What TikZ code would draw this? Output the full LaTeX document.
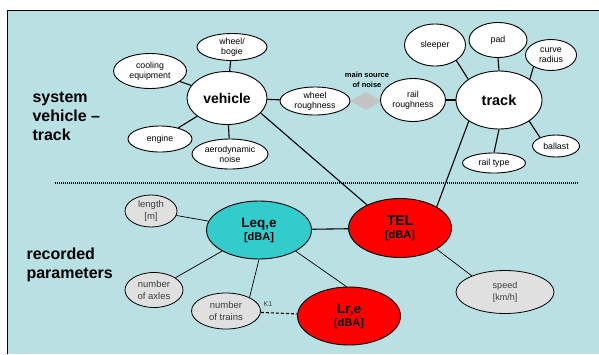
\documentclass[tikz,border=0pt]{standalone}
\usepackage{fontspec}
\setmainfont{Liberation Sans}
\usetikzlibrary{shapes.geometric}
\definecolor{bgc}{RGB}{185,224,227}
\definecolor{teal2}{RGB}{51,204,204}
\definecolor{lgray}{RGB}{224,224,224}
\definecolor{dgray}{RGB}{60,60,60}
\definecolor{dia}{RGB}{196,196,196}
\tikzset{
  el/.style={ellipse,draw=black,line width=0.9pt,fill=white,inner sep=0pt,align=center},
  upsmall/.style={el,font=\fontsize{8.8}{10.3}\selectfont},
  lowsmall/.style={el,fill=lgray,line width=0.8pt,text=dgray,font=\fontsize{9.5}{11.5}\selectfont},
  upline/.style={line width=1.1pt},
  lowline/.style={line width=0.7pt},
  heading/.style={font=\bfseries\fontsize{16}{19}\selectfont,align=left,anchor=west}
}
\begin{document}
\begin{tikzpicture}[x=1pt,y=-1pt]
\useasboundingbox (0,0) rectangle (599,354);
\fill[bgc] (7,10) rectangle (599,354);
\draw[line width=0.8pt] (7,354) -- (7,10) -- (599,10);

% headings
\node[heading] (h1) at (29,116) {system\\vehicle –\\track};
\node[heading] (h2) at (23,265) {recorded\\parameters};

% dotted separator
\coordinate (d1) at (55,183);
\coordinate (d2) at (578,183);
\draw[line width=2pt,dash pattern=on 1pt off 1pt] (d1) -- (d2);

% upper nodes
\node[el,minimum width=80pt,minimum height=53pt,font=\bfseries\fontsize{14}{16}\selectfont] (veh) at (227,98) {vehicle};
\node[upsmall,minimum width=70pt,minimum height=27pt] (wb) at (232,47) {wheel/\\bogie};
\node[upsmall,minimum width=73pt,minimum height=35pt] (cool) at (150,71) {cooling\\equipment};
\node[upsmall,minimum width=64pt,minimum height=26pt] (eng) at (160,139) {engine};
\node[upsmall,minimum width=76pt,minimum height=30pt] (aero) at (230,154) {aerodynamic\\noise};
\node[upsmall,minimum width=70pt,minimum height=28pt] (wr) at (315,101) {wheel\\roughness};
\node[diamond,fill=dia,inner sep=0pt,minimum width=32pt,minimum height=18pt] (dm) at (366,101) {};
\node[font=\bfseries\fontsize{7.5}{9.5}\selectfont,align=center] (ms) at (367,80) {main source\\of noise};
\node[upsmall,minimum width=65pt,minimum height=43pt] (rr) at (413,100) {rail\\roughness};
\node[el,minimum width=86pt,minimum height=58pt,font=\bfseries\fontsize{14.5}{16}\selectfont] (tr) at (499,100) {track};
\node[upsmall,minimum width=61pt,minimum height=42pt] (sl) at (435,45) {sleeper};
\node[upsmall,minimum width=58pt,minimum height=35pt] (pad) at (498,40) {pad};
\node[upsmall,minimum width=51pt,minimum height=31pt] (cr) at (551,55) {curve\\radius};
\node[upsmall,minimum width=47pt,minimum height=22pt] (bal) at (556,146) {ballast};
\node[upsmall,minimum width=63pt,minimum height=20pt] (rt) at (494,163) {rail type};

% lower nodes
\node[el,fill=teal2,minimum width=105pt,minimum height=58pt,font=\bfseries\fontsize{11}{13}\selectfont] (leq) at (259,230) {{\fontsize{13.5}{15}\selectfont Leq,e}\\{}[dBA]};
\node[el,fill=red,minimum width=103pt,minimum height=59pt,font=\bfseries\fontsize{11}{13}\selectfont] (tel) at (400,228) {{\fontsize{14}{15}\selectfont TEL}\\{}[dBA]};
\node[el,fill=red,minimum width=103pt,minimum height=58pt,font=\bfseries\fontsize{11}{13}\selectfont] (lr) at (349,316) {{\fontsize{13.5}{15}\selectfont Lr,e}\\{}[dBA]};
\node[lowsmall,minimum width=52pt,minimum height=32pt] (len) at (151,211) {length\\{}[m]};
\node[lowsmall,minimum width=58pt,minimum height=35pt] (ax) at (154,290) {number\\of axles};
\node[lowsmall,minimum width=69pt,minimum height=36pt] (trn) at (226,311) {number\\of trains};
\node[lowsmall,minimum width=98pt,minimum height=43pt,font=\fontsize{9}{11.5}\selectfont] (sp) at (505,292) {speed\\{}[km/h]};
\node[text=dgray,font=\fontsize{7}{8}\selectfont,inner sep=0pt] (k1) at (268,304) {K1};

% upper connectors
\draw[upline] (veh) -- (wb);
\draw[upline] (veh) -- (cool);
\draw[upline] (veh) -- (eng);
\draw[upline] (veh) -- (aero);
\draw[upline] (veh) -- (wr);
\draw[upline] (rr) -- (tr);
\draw[upline] (tr.146) -- (sl.-36);
\draw[upline] (tr.north) -- (pad.south);
\draw[upline] (tr.34) -- (cr.214);
\draw[upline] (tr.-35) -- (bal.152);
\draw[upline] (tr.south) -- (rt.north);
\draw[upline] (veh.-24) -- (tel.145);
\draw[upline] (tr.215) -- (tel.30);

% lower connectors
\draw[lowline] (leq) -- (len);
\draw[lowline] (leq) -- (ax);
\draw[lowline] (leq.south) -- (trn.30);
\draw[upline] (leq) -- (tel);
\draw[lowline] (leq.-30) -- (lr.95);
\draw[lowline] (tel.-30) -- (sp.154);
\draw[line width=1.1pt,dash pattern=on 3pt off 2pt] (trn) -- (lr);
\end{tikzpicture}
\end{document}
